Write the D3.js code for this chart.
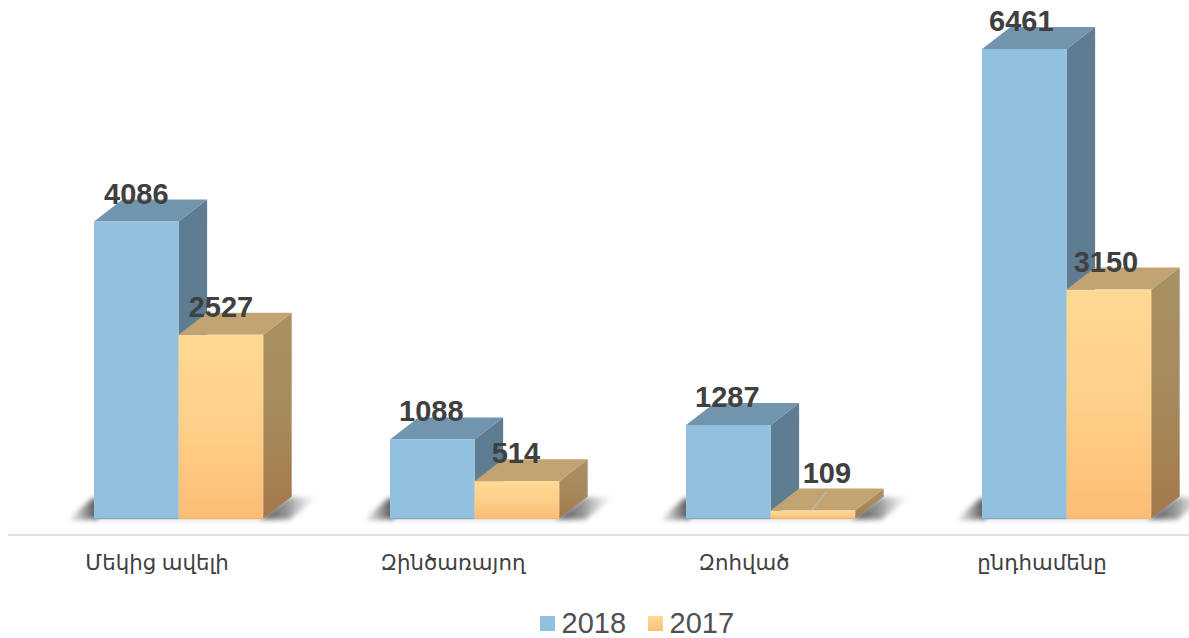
<!DOCTYPE html>
<html><head><meta charset="utf-8">
<script src="https://cdnjs.cloudflare.com/ajax/libs/d3/7.8.5/d3.min.js"></script>
<style>html,body{margin:0;padding:0;background:#fff}svg{display:block}</style>
</head><body><div id="chart"></div>
<script>
const categories = ["Մեկից ավելի", "Զինծառայող", "Զոհված", "ընդհամենը"];
const seriesNames = ["2018", "2017"];
const values2018 = [4086, 1088, 1287, 6461];
const values2017 = [2527, 514, 109, 3150];

const W = 1189, H = 638, baseY = 518.5, topY = 49, dx = 28.5, dy = -22;
const svg = d3.select("#chart").append("svg").attr("width", W).attr("height", H);
const defs = svg.append("defs");

const x0 = d3.scaleBand().domain(categories).range([31, 1215]).paddingInner(0).paddingOuter(0);
const x1 = d3.scaleBand().domain(seriesNames).range([63, 232.2]);
const y = d3.scaleLinear().domain([0, 6461]).range([baseY, topY]);

function grad(id, stops, x2, y2) {
  const g = defs.append("linearGradient").attr("id", id)
    .attr("x1", 0).attr("y1", 0).attr("x2", x2).attr("y2", y2);
  stops.forEach((c, i) => {
    const s = g.append("stop").attr("offset", i / (stops.length - 1)).attr("stop-color", c[0]);
    s.attr("stop-opacity", c[1]);
  });
}
grad("orangeFront", [["#ffd993",1], ["#fed08a",1], ["#fdbc74",1]], 0, 1);
grad("orangeSide", [["#a89161",1], ["#a78a5c",1], ["#a3784c",1]], 0, 1);
grad("legendOrange", [["#ffd993",1], ["#fdc07a",1]], 0, 1);
grad("fadeRight", [["#3c3c3c",0.95], ["#5a5a5a",0.6], ["#a0a0a0",0]], 1, 0);
grad("fadeLeft", [["#a0a0a0",0], ["#5a5a5a",0.55], ["#3c3c3c",0.95]], 1, 0);
const blur = defs.append("filter").attr("id", "soft")
  .attr("x", "-20%").attr("y", "-20%").attr("width", "140%").attr("height", "140%");
blur.append("feGaussianBlur").attr("stdDeviation", 2.6);

const style = {
  "2018": {front: "#91c1df", top: "#7095ad", side: "#5e7c92", edge: "#7fa9c3"},
  "2017": {front: "url(#orangeFront)", top: "#c2a473", side: "url(#orangeSide)", edge: "#e8b97c"}
};

const rows = categories.flatMap((c, i) => [
  {cat: c, s: "2018", v: values2018[i], i},
  {cat: c, s: "2017", v: values2017[i], i}
]);
const xs = d => x0(d.cat) + x1(d.s);
const poly = pts => pts.map(p => p.join(",")).join(" ");

// floor shadows
const shadow = svg.append("g").attr("filter", "url(#soft)");
categories.forEach(c => {
  const l = x0(c) + x1("2018"), r = x0(c) + x1("2017") + x1.bandwidth();
  shadow.append("polygon").attr("fill", "url(#fadeLeft)")
    .attr("points", poly([[l - 26, baseY + 1], [l - 2, baseY - 20], [l + 4, baseY - 20], [l + 4, baseY + 1]]));
  shadow.append("polygon").attr("fill", "url(#fadeRight)")
    .attr("points", poly([[r - 4, baseY + 1], [r + dx - 4, baseY + dy + 1], [r + dx + 26, baseY + dy + 1], [r + 26, baseY + 1]]));
  shadow.append("rect").attr("x", l - 22).attr("y", baseY - 0.5).attr("width", r - l + 44).attr("height", 1.6)
    .attr("fill", "#8a8a8a").attr("opacity", 0.6);
});

// bars: 2018 first, then 2017 over it
const w = x1.bandwidth();
const bars = svg.append("g").selectAll("g").data(rows).join("g");
bars.append("polygon").attr("fill", d => style[d.s].side)
  .attr("points", d => poly([[xs(d) + w, y(d.v)], [xs(d) + w + dx, y(d.v) + dy], [xs(d) + w + dx, baseY + dy], [xs(d) + w, baseY]]));
bars.append("polygon").attr("fill", d => style[d.s].top)
  .attr("points", d => poly([[xs(d), y(d.v)], [xs(d) + dx, y(d.v) + dy], [xs(d) + w + dx, y(d.v) + dy], [xs(d) + w, y(d.v)]]));
bars.append("rect").attr("x", d => xs(d)).attr("y", d => y(d.v)).attr("width", w)
  .attr("height", d => baseY - y(d.v)).attr("fill", d => style[d.s].front);
bars.append("rect").attr("x", d => xs(d)).attr("y", baseY - 0.5).attr("width", w).attr("height", 1.2)
  .attr("fill", d => style[d.s].edge);

// leader line of the small value
const small = rows.find(d => d.v === 109);
svg.append("line").attr("stroke", "#b9b9b9").attr("stroke-width", 1.4)
  .attr("x1", xs(small) + w / 2 - 2).attr("y1", y(small.v))
  .attr("x2", xs(small) + w / 2 + 14).attr("y2", y(small.v) - 19);

// value labels
const labelNudge = d => d.v === 109 ? 14 : (d.i === 3 ? -3 : (d.i === 0 ? 0 : -1));
svg.append("g").selectAll("text").data(rows).join("text")
  .attr("x", d => xs(d) + w / 2 + labelNudge(d))
  .attr("y", d => d.v === 109 ? y(d.v) - 28 : y(d.v) - 18)
  .attr("text-anchor", "middle")
  .attr("font-family", "'Liberation Sans', Arial, sans-serif")
  .attr("font-weight", "bold").attr("font-size", 29).attr("fill", "#404040")
  .text(d => d.v);

// category axis
const axis = svg.append("g").attr("transform", "translate(0,535)")
  .call(d3.axisBottom(x0).tickSize(0).tickPadding(0));
axis.select(".domain").remove();
svg.append("line").attr("x1", 8).attr("x2", W).attr("y1", 535).attr("y2", 535)
  .attr("stroke", "#e2e2e2").attr("stroke-width", 2);
axis.selectAll("text").attr("transform", null).attr("y", 35).attr("dy", 0)
  .attr("x", (d, i) => [-22, -22, -27, -25][i])
  .attr("font-family", "'Noto Sans', 'DejaVu Sans', sans-serif")
  .attr("font-size", 21.3).attr("fill", "#404040");

// legend
const legendX = d3.scaleOrdinal().domain(seriesNames).range([540, 648]);
const lg = svg.append("g").selectAll("g").data(seriesNames).join("g");
lg.append("rect").attr("x", d => legendX(d)).attr("y", 616).attr("width", 15).attr("height", 15)
  .attr("fill", (d, i) => i ? "url(#legendOrange)" : "#91c1df");
lg.append("text").attr("x", d => legendX(d) + 21.5).attr("y", 633)
  .attr("font-family", "'Liberation Sans', Arial, sans-serif")
  .attr("font-size", 29).attr("fill", "#505050").text(d => d);
</script></body></html>
